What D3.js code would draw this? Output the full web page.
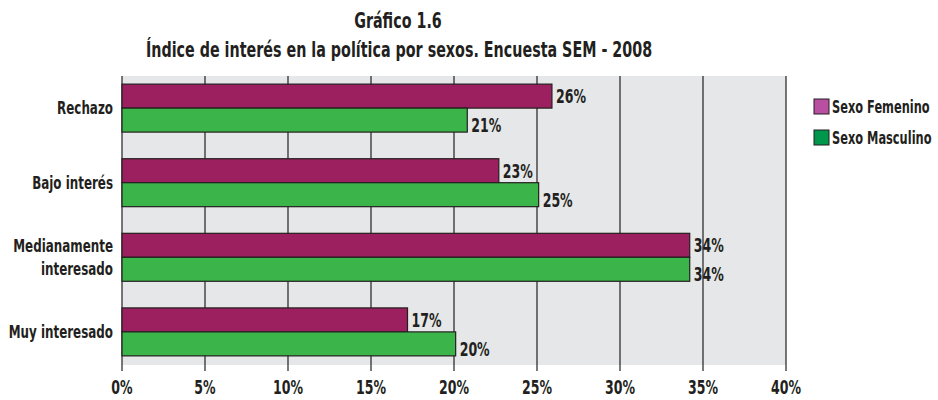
<!DOCTYPE html>
<html>
<head>
<meta charset="utf-8">
<script src="https://cdn.jsdelivr.net/npm/d3@7"></script>
<style>
  body { margin: 0; background: #fff; }
  text { font-family: "DejaVu Sans", sans-serif; font-weight: bold; fill: #231f20; }
</style>
</head>
<body>
<script>
const categories = ["Rechazo", "Bajo interés", "Medianamente interesado", "Muy interesado"];
const series = ["Sexo Femenino", "Sexo Masculino"];
const femenino = [25.9, 22.7, 34.2, 17.2];
const masculino = [20.8, 25.1, 34.2, 20.1];
const ticks = [0, 5, 10, 15, 20, 25, 30, 35, 40];

const width = 938;
const height = 400;
const barColors = ["#9c1f5f", "#3bb54a"];
const legendColors = ["#b94fa0", "#00964b"];

const svg = d3.select("body")
    .append("svg")
    .attr("width", width)
    .attr("height", height);

// no condensed font installed, so narrow the glyphs of a text (or its tspans)
function condense(sel, k) {
    sel.each(function() {
        const spans = this.querySelectorAll("tspan");
        const nodes = spans.length ? Array.from(spans) : [this];
        nodes.forEach(n => {
            const w = n.getComputedTextLength();
            n.setAttribute("textLength", w * k);
            n.setAttribute("lengthAdjust", "spacingAndGlyphs");
        });
    });
}

// title
svg.append("text")
    .attr("x", 398).attr("y", 28)
    .attr("text-anchor", "middle")
    .style("font-size", "22px")
    .text("Gráfico 1.6")
    .call(condense, 0.65);
svg.append("text")
    .attr("x", 399).attr("y", 57)
    .attr("text-anchor", "middle")
    .style("font-size", "22px")
    .text("Índice de interés en la política por sexos. Encuesta SEM - 2008")
    .call(condense, 0.65);

const x = d3.scaleLinear().domain([0, 40]).range([122, 786]);
const y = d3.scaleBand().domain(categories).range([70.7, 369.3]).paddingInner(0.357).paddingOuter(0.18);
const ySub = d3.scaleBand().domain(series).range([0, y.bandwidth()]);

const plotTop = 76, plotBottom = 365;

svg.append("rect")
    .attr("x", x(0)).attr("y", plotTop)
    .attr("width", x(40) - x(0)).attr("height", plotBottom - plotTop)
    .attr("fill", "#e6e7e8");

// grid lines + axis
svg.append("g")
    .selectAll("line")
    .data(ticks)
    .join("line")
    .attr("x1", d => x(d)).attr("x2", d => x(d))
    .attr("y1", plotTop).attr("y2", 371)
    .attr("stroke", "#231f20")
    .attr("stroke-width", 1.2);

svg.append("g")
    .selectAll("text")
    .data(ticks)
    .join("text")
    .attr("x", d => x(d))
    .attr("y", 394)
    .attr("text-anchor", "middle")
    .style("font-size", "19px")
    .text(d => d + "%")
    .call(condense, 0.66);

const rows = categories.map((c, i) => ({ cat: c, vals: [femenino[i], masculino[i]] }));

const groups = svg.append("g")
    .selectAll("g")
    .data(rows)
    .join("g")
    .attr("transform", d => `translate(0,${y(d.cat)})`);

groups.selectAll("rect")
    .data(d => d.vals.map((v, j) => ({ v, s: series[j], j })))
    .join("rect")
    .attr("x", x(0))
    .attr("y", d => ySub(d.s))
    .attr("width", d => x(d.v) - x(0))
    .attr("height", ySub.bandwidth())
    .attr("fill", d => barColors[d.j])
    .attr("stroke", "#231f20")
    .attr("stroke-width", 1.2);

groups.selectAll("text.val")
    .data(d => d.vals.map((v, j) => ({ v, s: series[j], j })))
    .join("text")
    .attr("class", "val")
    .attr("x", d => x(d.v) + 4)
    .attr("y", d => ySub(d.s) + ySub.bandwidth() / 2 + (d.j === 0 ? 0 : 5))
    .attr("dy", "0.36em")
    .style("font-size", "19px")
    .text(d => Math.round(d.v) + "%")
    .call(condense, 0.66);

// category labels
groups.append("text")
    .attr("x", 113)
    .attr("text-anchor", "end")
    .style("font-size", "17px")
    .each(function(d) {
        const words = d.cat === "Medianamente interesado" ? ["Medianamente", "interesado"] : [d.cat];
        const t = d3.select(this);
        const mid = y.bandwidth() / 2;
        words.forEach((w, k) => {
            t.append("tspan")
                .attr("x", 113)
                .attr("y", mid + 6 + (k - (words.length - 1) / 2) * 23)
                .text(w);
        });
    })
    .call(condense, 0.7);

// legend
const legend = svg.append("g")
    .selectAll("g")
    .data(series)
    .join("g")
    .attr("transform", (d, i) => `translate(814,${99 + i * 31})`);

legend.append("rect")
    .attr("width", 15).attr("height", 15)
    .attr("fill", (d, i) => legendColors[i])
    .attr("stroke", "#231f20")
    .attr("stroke-width", 1);

legend.append("text")
    .attr("x", 18).attr("y", 14)
    .style("font-size", "17px")
    .text(d => d)
    .call(condense, 0.67);
</script>
</body>
</html>
